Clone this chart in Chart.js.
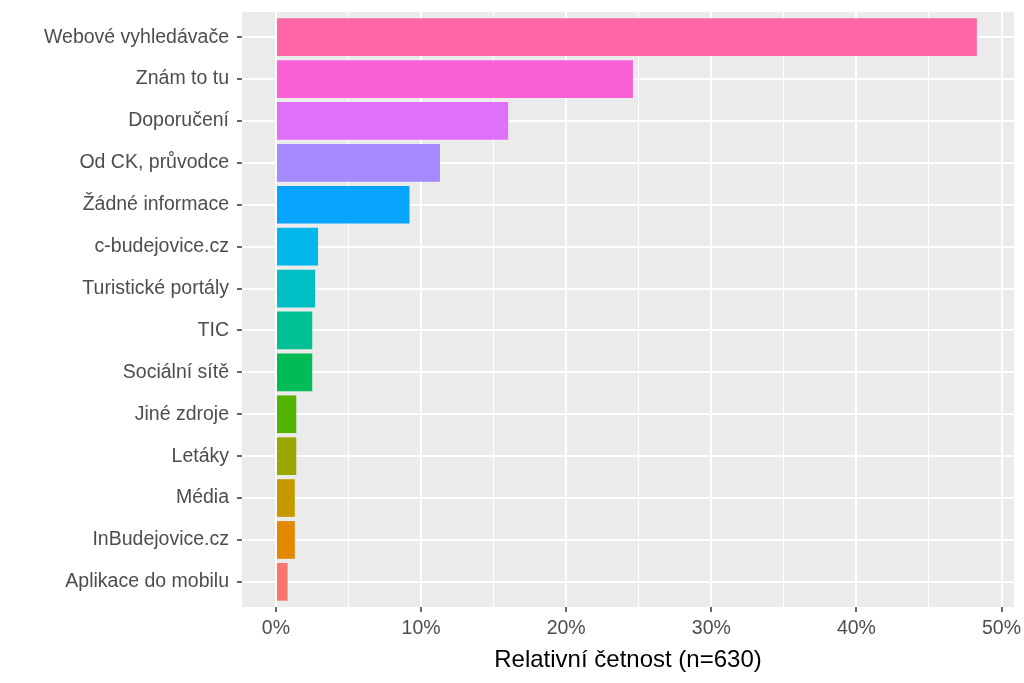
<!DOCTYPE html>
<html>
<head>
<meta charset="utf-8">
<script src="https://cdn.jsdelivr.net/npm/chart.js@4"></script>
<style>
  html, body { margin: 0; padding: 0; background: #ffffff; }
  #wrap { width: 1024px; height: 683px; }
</style>
</head>
<body>
<div id="wrap"><canvas id="c" width="1024" height="683"></canvas></div>
<script>
// categories from bottom to top (factor order)
var categories = ['Aplikace do mobilu', 'InBudejovice.cz', 'Média', 'Letáky', 'Jiné zdroje',
                  'Sociální sítě', 'TIC', 'Turistické portály', 'c-budejovice.cz', 'Žádné informace',
                  'Od CK, průvodce', 'Doporučení', 'Znám to tu', 'Webové vyhledávače'];
// relative frequency in %
var values = [0.8, 1.3, 1.3, 1.4, 1.4, 2.5, 2.5, 2.7, 2.9, 9.2, 11.3, 16.0, 24.6, 48.3];
var colors = ['#F8766D', '#E38900', '#C49A00', '#99A800', '#53B400', '#00BC56', '#00C094',
              '#00BFC4', '#00B6EB', '#06A4FF', '#A58AFF', '#DF70F8', '#FB61D7', '#FF66A8'];
var xTicks = [0, 5, 10, 15, 20, 25, 30, 35, 40, 45, 50];
var xTitle = 'Relativní četnost (n=630)';

var points = [];
for (var i = 0; i < values.length; i++) {
  points.push({ x: values[i], y: i + 1 });
}

var panelBg = {
  id: 'panelBg',
  beforeDraw: function(chart) {
    var a = chart.chartArea, ctx = chart.ctx;
    ctx.save();
    ctx.fillStyle = '#EBEBEB';
    ctx.fillRect(a.left, a.top, a.right - a.left, a.bottom - a.top);
    ctx.restore();
  }
};

var isMajor = function(ctx) { return ctx.tick && ctx.tick.value % 10 === 0; };
var font = 'Liberation Sans, Arial, sans-serif';

new Chart(document.getElementById('c'), {
  type: 'bar',
  data: {
    datasets: [{
      data: points,
      backgroundColor: colors,
      borderWidth: 0,
      barPercentage: 0.9,
      categoryPercentage: 1
    }]
  },
  plugins: [panelBg],
  options: {
    indexAxis: 'y',
    responsive: false,
    animation: false,
    layout: { padding: { top: 12, right: 10, left: 0, bottom: 0 } },
    plugins: { legend: { display: false }, tooltip: { enabled: false } },
    scales: {
      x: {
        type: 'linear',
        min: -2.34,
        max: 50.86,
        afterBuildTicks: function(s) { s.ticks = xTicks.map(function(v) { return { value: v }; }); },
        afterFit: function(s) { s.height = 76; s.paddingLeft = 0; s.paddingRight = 0; },
        border: { display: false },
        grid: {
          color: '#FFFFFF',
          lineWidth: function(ctx) { return isMajor(ctx) ? 2 : 1; },
          tickColor: function(ctx) { return isMajor(ctx) ? '#333333' : 'rgba(0,0,0,0)'; },
          tickWidth: 1.5,
          tickLength: 5
        },
        ticks: {
          autoSkip: false,
          maxRotation: 0,
          padding: 5,
          color: '#4D4D4D',
          font: { family: font, size: 19.5 },
          callback: function(v) { return v % 10 === 0 ? v + '%' : ''; }
        },
        title: {
          display: true,
          text: xTitle,
          color: '#000000',
          padding: { top: 4, bottom: 8 },
          font: { family: font, size: 24 }
        }
      },
      y: {
        type: 'linear',
        min: 0.4,
        max: 14.6,
        offset: false,
        afterBuildTicks: function(s) { s.ticks = categories.map(function(c, i) { return { value: i + 1 }; }); },
        afterFit: function(s) { s.width = 242; s.paddingTop = 0; s.paddingBottom = 0; },
        border: { display: false },
        grid: {
          offset: false,
          color: '#FFFFFF',
          lineWidth: 2,
          tickColor: '#333333',
          tickWidth: 1.5,
          tickLength: 5
        },
        ticks: {
          autoSkip: false,
          padding: 8,
          color: '#4D4D4D',
          font: { family: font, size: 19.5 },
          callback: function(v) { return categories[v - 1]; }
        }
      }
    }
  }
});
</script>
</body>
</html>
